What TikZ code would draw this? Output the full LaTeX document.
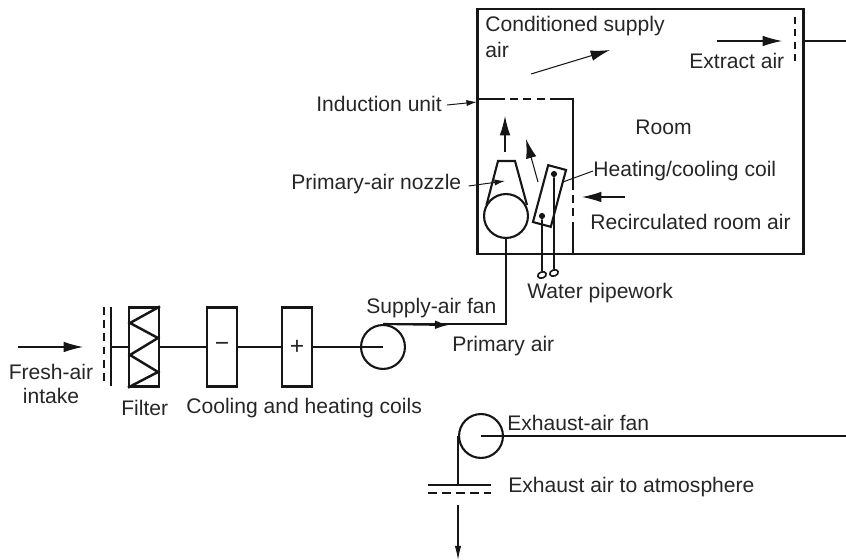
\documentclass[tikz,border=0pt]{standalone}
\usepackage{fontspec}
\setmainfont{Liberation Sans}
\usetikzlibrary{arrows.meta, positioning, shapes.geometric}
\definecolor{lineDark}{HTML}{161616}
\definecolor{textDark}{HTML}{262626}
\tikzset{
  duct/.style={line width=1.2pt, draw=lineDark},
  thinflow/.style={line width=0.6pt, draw=lineDark, -{Latex[length=11pt, width=6pt]}},
  leader/.style={line width=0.55pt, draw=lineDark},
  grille/.style={line width=1.2pt, draw=lineDark, dash pattern=on 4.6pt off 2.9pt},
  label/.style={font=\fontsize{12}{14}\selectfont\color{textDark}, anchor=west, inner sep=0pt},
  coilbox/.style={duct, rectangle, inner sep=0pt, minimum width=17pt, minimum height=45pt,
    font=\fontsize{14}{14}\selectfont\color{textDark}},
  fan/.style={duct, circle, inner sep=0pt, minimum size=25pt},
  pipeEnd/.style={line width=0.9pt, draw=lineDark, ellipse, inner sep=0pt, minimum width=5pt, minimum height=3.5pt, rotate=20},
  pipeDot/.style={circle, fill=lineDark, inner sep=0pt, minimum size=3.5pt}
}
\begin{document}
\begin{tikzpicture}[x=0.02cm, y=-0.02cm]
    \useasboundingbox (0, 0) rectangle (846, 560);

    \node[duct, rectangle, inner sep=0pt, minimum width=185.5pt, minimum height=139.3pt] (roomBox) at (640.5, 131.5) {};
    \coordinate (unitTopL) at (478, 99);
    \coordinate (unitDashL) at (497, 99);
    \coordinate (unitDashR) at (550, 99);
    \coordinate (unitCorner) at (573, 99);
    \coordinate (unitSideA) at (573, 182);
    \coordinate (unitSideB) at (573, 228);
    \coordinate (unitFoot) at (573, 254);
    \draw[duct] (unitTopL) -- (unitDashL);
    \draw[grille] (unitDashL) -- (unitDashR);
    \draw[duct] (unitDashR) -- (unitCorner) -- (unitSideA);
    \draw[grille] (unitSideA) -- (unitSideB);
    \draw[duct] (unitSideB) -- (unitFoot);

    \coordinate (extractTop) at (795, 17);
    \coordinate (extractBot) at (795, 65);
    \coordinate (extractEnd) at (846, 41);
    \coordinate (extractStub) at (803, 41);
    \draw[grille, dash pattern=on 4pt off 3pt] (extractTop) -- (extractBot);
    \draw[duct] (extractStub) -- (extractEnd);

    \node[label] (condText) at (485, 26) {Conditioned supply};
    \node[label] (condText2) at (485, 50) {air};
    \node[label] (extractText) at (689, 61) {Extract air};
    \node[label] (roomText) at (635, 127) {Room};
    \node[label] (coilText) at (593, 171) {Heating/cooling coil};
    \node[label] (recircText) at (590, 222) {Recirculated room air};
    \node[label] (unitText) at (316, 104) {Induction unit};
    \node[label] (nozzleText) at (291, 184) {Primary-air nozzle};
    \node[label] (pipeText) at (527, 293) {Water pipework};
    \node[label] (fanText) at (366, 308) {Supply-air fan};
    \node[label] (primaryText) at (452, 346) {Primary air};
    \node[label, align=center, anchor=center] (freshText) at (51, 384) {Fresh-air\\intake};
    \node[label] (filterText) at (121, 408) {Filter};
    \node[label] (coilsText) at (186, 408) {Cooling and heating coils};
    \node[label] (exhFanText) at (507, 423) {Exhaust-air fan};
    \node[label] (exhText) at (508, 487) {Exhaust air to atmosphere};

    \coordinate (extractA) at (717, 41);
    \coordinate (extractB) at (782, 41);
    \draw[thinflow] (extractA) -- (extractB);
    \coordinate (supplyA) at (531, 74);
    \coordinate (supplyB) at (610, 50);
    \draw[thinflow] (supplyA) -- (supplyB);
    \coordinate (upA) at (505, 152);
    \coordinate (upB) at (505, 116);
    \draw[thinflow] (upA) -- (upB);
    \coordinate (slantA) at (538, 182);
    \coordinate (slantB) at (526, 139);
    \draw[thinflow] (slantA) -- (slantB);
    \coordinate (recircA) at (625, 197);
    \coordinate (recircB) at (582, 197);
    \draw[thinflow] (recircA) -- (recircB);

    \coordinate (unitPoint) at (477, 102);
    \draw[leader, -{Latex[length=6pt, width=3.5pt]}] (unitText.east) ++(5, 1) -- (unitPoint);
    \coordinate (nozzlePoint) at (505, 181);
    \draw[leader, -{Latex[length=6pt, width=3.5pt]}] (nozzleText.east) ++(7, 2) -- (nozzlePoint);

    \node[fan] (nozzleFan) at (506, 216) {};
    \draw[duct] (486.5, 205) -- (498, 161) -- (515, 161) -- (527, 205);

    \node[duct, rectangle, inner sep=0pt, minimum width=10.5pt, minimum height=33.5pt, rotate=-15] (coilUnit) at (549.5, 196) {};
    \coordinate (coilTouch) at (563, 182);
    \draw[leader] (coilTouch) -- (coilText.west);

    \node[pipeDot] (dotLeft) at (542, 216) {};
    \node[pipeDot] (dotRight) at (554, 174) {};
    \node[pipeEnd] (endLeft) at (542, 275) {};
    \node[pipeEnd] (endRight) at (554, 273) {};
    \draw[duct, line width=0.9pt] (dotLeft) -- (endLeft);
    \draw[duct, line width=0.9pt] (dotRight) -- (endRight);

    \coordinate (damperTopA) at (104, 307);
    \coordinate (damperBotA) at (104, 386);
    \coordinate (damperTopB) at (111, 307);
    \coordinate (damperBotB) at (111, 386);
    \coordinate (damperMid) at (111, 347);
    \draw[grille, dash pattern=on 4.5pt off 3pt] (damperTopA) -- (damperBotA);
    \draw[duct] (damperTopB) -- (damperBotB);

    \coordinate (freshA) at (18, 347);
    \coordinate (freshB) at (83, 347);
    \draw[thinflow] (freshA) -- (freshB);

    \node[coilbox] (filterBox) at (144, 347) {};
    \draw[duct, line width=1.4pt] (filterBox.north east) -- (130, 323) -- (158, 338) -- (130, 355) -- (158, 372) -- (filterBox.south west);
    \node[coilbox] (coilCold) at (222, 347) {−};
    \node[coilbox] (coilHot) at (297, 347) {+};
    \node[fan] (supplyFan) at (383, 347) {};

    \draw[duct] (damperMid) -- (filterBox);
    \draw[duct] (filterBox) -- (coilCold);
    \draw[duct] (coilCold) -- (coilHot);
    \draw[duct] (coilHot) -- (supplyFan.center);
    \draw[duct] (nozzleFan.south) |- (supplyFan.north);
    \coordinate (flowMark) at (449, 325);
    \draw[duct, -{Latex[length=8pt, width=5pt]}] (supplyFan.north) -- (flowMark);

    \node[fan] (exhaustFan) at (481, 436) {};
    \coordinate (exhaustEnd) at (846, 436);
    \draw[duct] (exhaustFan.center) -- (exhaustEnd);
    \coordinate (louvreL) at (428, 485);
    \coordinate (louvreR) at (491, 485);
    \coordinate (louvreL2) at (428, 493);
    \coordinate (louvreR2) at (491, 493);
    \draw[duct] (exhaustFan.west) -- (exhaustFan.west |- louvreL);
    \draw[duct] (louvreL) -- (louvreR);
    \draw[grille, dash pattern=on 5pt off 3pt] (louvreL2) -- (louvreR2);
    \coordinate (dropA) at (458, 505);
    \coordinate (dropB) at (458, 560);
    \draw[thinflow, -{Latex[length=8pt, width=3.6pt]}] (dropA) -- (dropB);
  \end{tikzpicture}
\end{document}
